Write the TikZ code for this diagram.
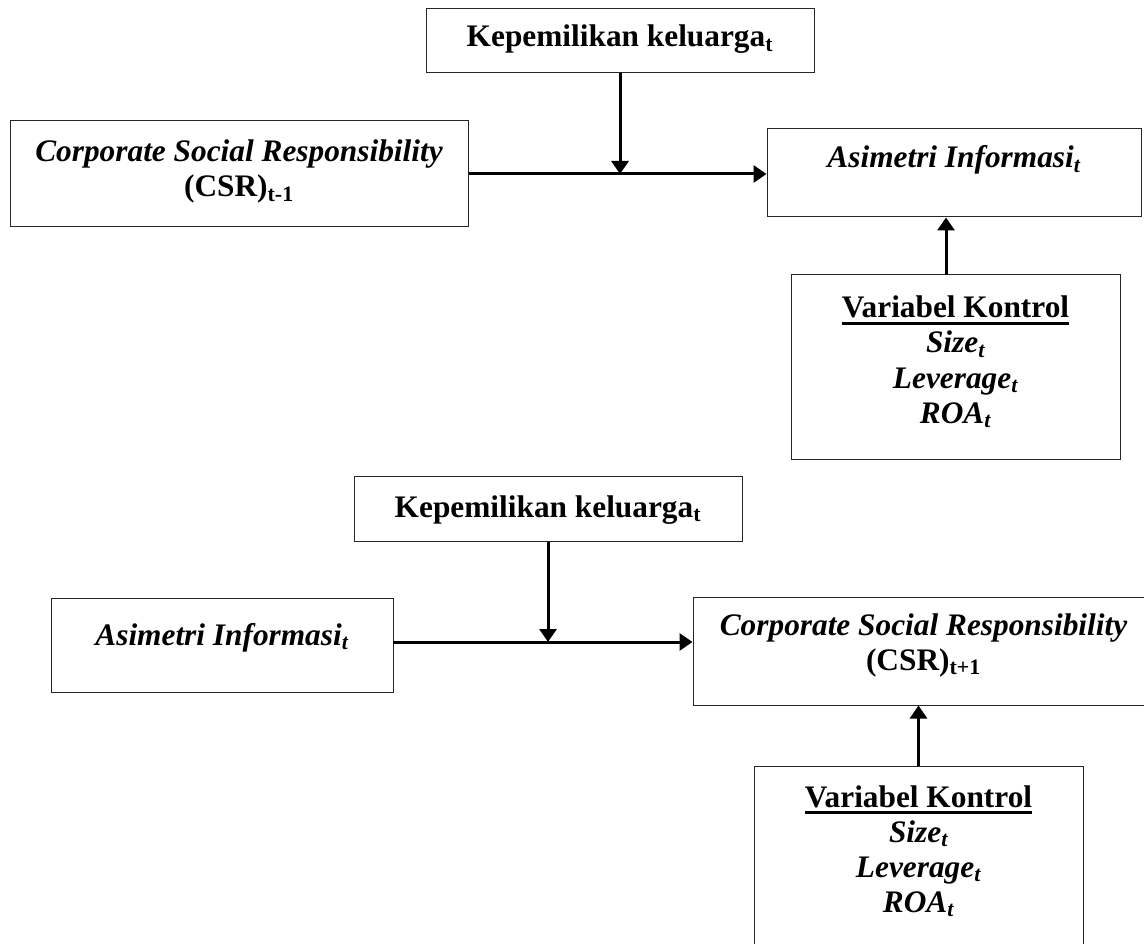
\documentclass[tikz,border=0pt]{standalone}
\usepackage{fontspec}
\setmainfont{Liberation Serif}
\usetikzlibrary{arrows.meta,fit}
\tikzset{
  box/.style={draw=black!85, line width=0.75pt, inner sep=0pt, fill=none},
  txt/.style={inner sep=0pt, anchor=base, font=\fontsize{23.5}{27}\selectfont\bfseries},
  itx/.style={txt, font=\fontsize{23.5}{27}\selectfont\bfseries\itshape},
  arr/.style={line width=2.25pt, -{Triangle[length=9.75pt,width=12.75pt]}},
  uline/.style={line width=2pt}
}
\begin{document}
\begin{tikzpicture}[x=0.75pt,y=-0.75pt]
\useasboundingbox (0,0) rectangle (1144,944);
% ---------- top diagram ----------
\node[box, fit={(426,9) (814,73)}] (kepA) {};
\node[txt] (kepAt) at (620,47) {Kepemilikan keluarga\textsubscript{t}};
\node[box, fit={(10,121) (468,227)}] (csrA) {};
\node[itx] (csrAt1) at (239,162) {Corporate Social Responsibility};
\node[txt] (csrAt2) at (239,197) {(CSR)\textsubscript{t-1}};
\node[box, fit={(767,129) (1141,217)}] (asimA) {};
\node[itx] (asimAt) at (954,168) {Asimetri Informasi\textsubscript{t}};
\node[box, fit={(791,275) (1120,459)}] (vkA) {};
\node[txt] (vkAt) at (955.5,318) {Variabel Kontrol};
\draw[uline] ([yshift=-4pt]vkAt.base west) -- ([yshift=-4pt]vkAt.base east);
\node[itx] (vkA1) at (955.5,353) {Size\textsubscript{t}};
\node[itx] (vkA2) at (955.5,388) {Leverage\textsubscript{t}};
\node[itx] (vkA3) at (955.5,423) {ROA\textsubscript{t}};
\coordinate (vkAtop) at (946,275);
\draw[arr] (csrA.east) -- (asimA.west |- csrA.east);
\draw[arr] (kepA.south) -- (kepA.south |- csrA.east);
\draw[arr] (vkAtop) -- (vkAtop |- asimA.south);
% ---------- bottom diagram ----------
\node[box, fit={(354,476) (742,541)}] (kepB) {};
\node[txt] (kepBt) at (548,517) {Kepemilikan keluarga\textsubscript{t}};
\node[box, fit={(51,598) (393,692)}] (asimB) {};
\node[itx] (asimBt) at (222,645) {Asimetri Informasi\textsubscript{t}};
\node[box, fit={(693,597) (1154,705)}] (csrB) {};
\node[itx] (csrBt1) at (923.5,635) {Corporate Social Responsibility};
\node[txt] (csrBt2) at (923.5,670) {(CSR)\textsubscript{t+1}};
\node[box, fit={(754,766) (1083,955)}] (vkB) {};
\node[txt] (vkBt) at (918.5,807) {Variabel Kontrol};
\draw[uline] ([yshift=-4pt]vkBt.base west) -- ([yshift=-4pt]vkBt.base east);
\node[itx] (vkB1) at (918.5,842) {Size\textsubscript{t}};
\node[itx] (vkB2) at (918.5,877) {Leverage\textsubscript{t}};
\node[itx] (vkB3) at (918.5,912) {ROA\textsubscript{t}};
\coordinate (asimBr) at (393,642);
\draw[arr] (asimBr) -- (asimBr -| csrB.west);
\draw[arr] (kepB.south) -- (kepB.south |- asimBr);
\draw[arr] (vkB.north) -- (vkB.north |- csrB.south);
\end{tikzpicture}
\end{document}
